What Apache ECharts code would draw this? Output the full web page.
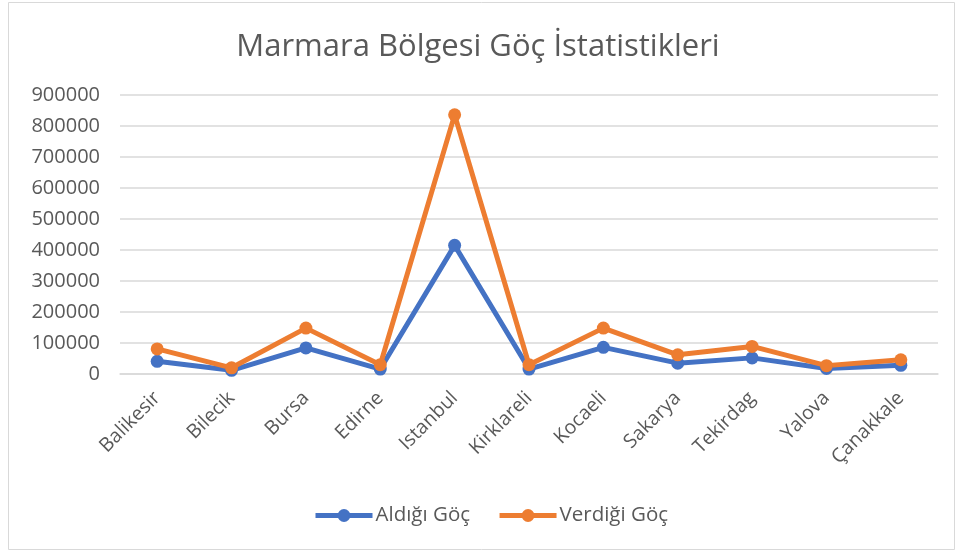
<!DOCTYPE html>
<html>
<head>
<meta charset="utf-8">
<script src="https://cdn.jsdelivr.net/npm/echarts@6/dist/echarts.min.js"></script>
<style>
  html, body { margin: 0; padding: 0; background: #fff; }
  #chart { width: 956px; height: 551px; }
</style>
</head>
<body>
<div id="chart"></div>
<script>
// Marmara region migration figures by province
const provinces = ['Balikesir', 'Bilecik', 'Bursa', 'Edirne', 'Istanbul', 'Kirklareli', 'Kocaeli', 'Sakarya', 'Tekirdag', 'Yalova', 'Çanakkale'];
const aldigiGoc = [41000, 12000, 84000, 16000, 415000, 16000, 86000, 35000, 52000, 18000, 28000];
const verdigiGoc = [81000, 20000, 148000, 30000, 836000, 30000, 148000, 62000, 89000, 27000, 46000];
const yTicks = { min: 0, max: 900000, interval: 100000 };

const FONT = '"Open Sans", "Noto Sans", sans-serif';
const TEXT = '#595959';

const chart = echarts.init(document.getElementById('chart'), null, { renderer: 'canvas' });
chart.setOption({
  backgroundColor: '#ffffff',
  animation: false,
  graphic: [{
    type: 'rect',
    shape: { x: 8.5, y: 2.5, width: 946, height: 547 },
    style: { fill: 'none', stroke: '#d9d9d9', lineWidth: 1 },
    silent: true
  }],
  title: {
    text: 'Marmara Bölgesi Göç İstatistikleri',
    left: 'center',
    top: 27,
    textStyle: { fontFamily: FONT, fontSize: 31, fontWeight: 'normal', color: TEXT }
  },
  legend: {
    top: 505,
    left: 313,
    itemWidth: 57,
    itemHeight: 16,
    itemGap: 27,
    padding: 0,
    lineStyle: { width: 5 },
    textStyle: { fontFamily: FONT, fontSize: 20.5, color: TEXT, padding: [0, 0, 0, -2] },
    data: ['Aldığı Göç', 'Verdiği Göç']
  },
  grid: { left: 120, right: 18, top: 95, bottom: 177, containLabel: false },
  xAxis: {
    type: 'category',
    data: provinces,
    boundaryGap: true,
    axisLine: { show: true, lineStyle: { color: '#d9d9d9', width: 1.5 } },
    axisTick: { show: false },
    axisLabel: { rotate: 45, interval: 0, margin: 21, fontFamily: FONT, fontSize: 19.5, color: TEXT }
  },
  yAxis: {
    type: 'value',
    min: yTicks.min,
    max: yTicks.max,
    interval: yTicks.interval,
    axisLine: { show: false },
    axisTick: { show: false },
    axisLabel: { margin: 20, fontFamily: FONT, fontSize: 20, color: TEXT, formatter: v => String(v) },
    splitLine: { lineStyle: { color: '#d9d9d9', width: 1.5 } }
  },
  series: [
    {
      name: 'Aldığı Göç',
      type: 'line',
      data: aldigiGoc,
      symbol: 'circle',
      symbolSize: 13,
      color: '#4472C4',
      lineStyle: { width: 5, color: '#4472C4' },
      itemStyle: { color: '#4472C4' }
    },
    {
      name: 'Verdiği Göç',
      type: 'line',
      data: verdigiGoc,
      symbol: 'circle',
      symbolSize: 13,
      color: '#ED7D31',
      lineStyle: { width: 5, color: '#ED7D31' },
      itemStyle: { color: '#ED7D31' }
    }
  ]
});
</script>
</body>
</html>
